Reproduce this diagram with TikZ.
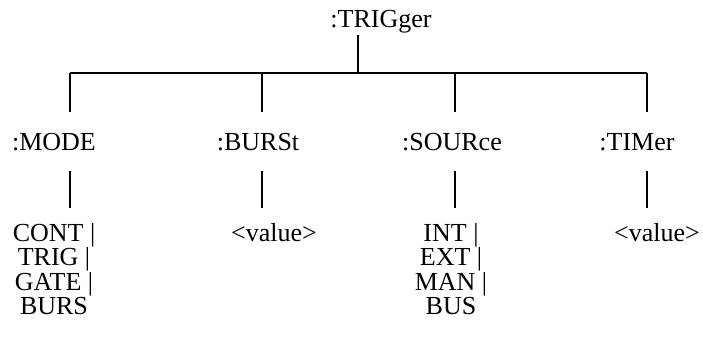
\documentclass[tikz,border=0pt]{standalone}
\usepackage{fontspec}
\setmainfont{Liberation Serif}
\usepackage{tikz}
\usetikzlibrary{calc}

\begin{document}
\begin{tikzpicture}[x=1pt,y=-1pt,
		cmd/.style={font=\fontsize{26}{22}\selectfont,inner sep=0pt,text height=17pt,text depth=0pt,outer ysep=21pt,anchor=base},
		args/.style={font=\fontsize{26}{22}\selectfont,inner sep=0pt,align=center,anchor=north,outer ysep=15pt},
		link/.style={line width=1.2pt}]
			\useasboundingbox (0,0) rectangle (703,341);
			% command tree
			\node[cmd,outer ysep=8pt] (trig) at (381,27) {:TRIGger};
			\coordinate (top) at (358,73);
			\coordinate (b1) at (70,73);
			\coordinate (b2) at (262,73);
			\coordinate (b3) at (455,73);
			\coordinate (b4) at (647,73);
			\node[cmd] (mode) at (54,150) {:MODE};
			\node[cmd] (burst) at (258,150) {:BURSt};
			\node[cmd] (source) at (452,150) {:SOURce};
			\node[cmd] (timer) at (637,150) {:TIMer};
			\node[args] (modeargs) at (54,208) {CONT |\\TRIG |\\GATE |\\BURS};
			\node[args] (burstargs) at (274,208) {<value>};
			\node[args] (sourceargs) at (451,208) {INT |\\EXT |\\MAN |\\BUS};
			\node[args] (timerargs) at (657,208) {<value>};
			\draw[link] (top |- trig.south) -- (top);
			\draw[link] (b1) -- (b4);
			\foreach \b/\c/\a in {b1/mode/modeargs,b2/burst/burstargs,b3/source/sourceargs,b4/timer/timerargs}{
				\draw[link] (\b) -- (\b |- \c.north);
				\draw[link] (\b |- \c.south) -- (\b |- \a.north);
			}
		\end{tikzpicture}
\end{document}
